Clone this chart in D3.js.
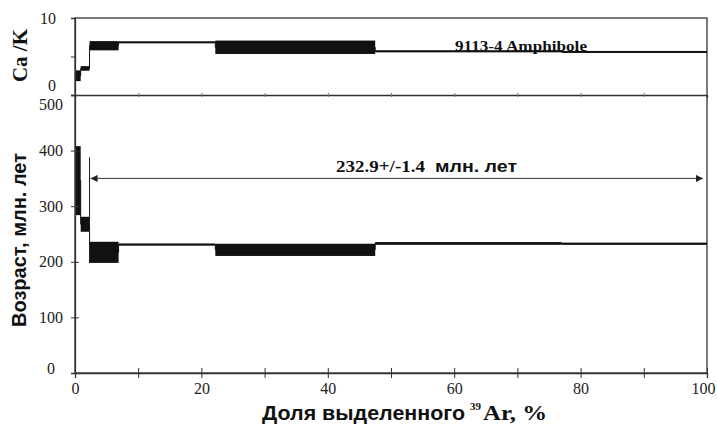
<!DOCTYPE html>
<html>
<head>
<meta charset="utf-8">
<script src="https://cdn.jsdelivr.net/npm/d3@7"></script>
<style>
  html, body { margin: 0; padding: 0; background: #fff; }
  svg { display: block; }
  .serif { font-family: "Liberation Serif", "Times New Roman", Times, "DejaVu Serif", serif; }
  .sans { font-family: "Liberation Sans", Arial, Helvetica, sans-serif; }
</style>
</head>
<body>
<svg id="chart" width="717" height="437"></svg>
<script>
// Step boundaries, cumulative % of released 39Ar
const stepEdges = [0, 0.9, 2.3, 6.9, 22.2, 47.5, 77.0, 100];
// Apparent ages (Ma) and 1-sigma errors per step
const ageValues = [346, 267.5, 217, 231, 221.5, 233, 232.5];
const ageErrors = [62, 13.5, 19, 2, 11, 2.5, 2];
// Ca/K ratio and errors per step
const caKValues = [2.5, 3.45, 6.4, 6.85, 6.2, 5.7, 5.62];
const caKErrors = [0.7, 0.3, 0.6, 0.12, 0.87, 0.1, 0.1];
// Plateau
const plateauStart = 2.3, plateauEnd = 100, plateauAge = 232.9, plateauErr = 1.4;
const plateauNumber = "232.9+/-1.4";
const plateauUnit = "млн. лет";
const sampleName = "9113-4 Amphibole";
const xTicks = [0, 10, 20, 30, 40, 50, 60, 70, 80, 90, 100];
const ageTicks = [0, 100, 200, 300, 400, 500];
const caKTicks = [0, 5, 10];

const svg = d3.select("#chart");
const left = 75, right = 707;
const topY = 18, midY = 95, botY = 373;

const x = d3.scaleLinear().domain([0, 100]).range([left, right]);
const yAge = d3.scaleLinear().domain([0, 500]).range([botY, midY]);
const yCa = d3.scaleLinear().domain([0, 10]).range([midY, topY]);

const steps = ageValues.map((v, i) => ({
  x0: stepEdges[i], x1: stepEdges[i + 1],
  age: v, ageErr: ageErrors[i],
  ca: caKValues[i], caErr: caKErrors[i]
}));

const lineCol = "#333";
const ink = "#111";
const serifFont = "Liberation Serif, Times New Roman, Times, DejaVu Serif, serif";

// Stretch a text element so it spans a given width
function fit(sel, width) {
  sel.attr("textLength", width).attr("lengthAdjust", "spacingAndGlyphs");
  return sel;
}

// Frame
svg.append("rect").attr("x", left).attr("y", topY)
  .attr("width", right - left).attr("height", botY - topY)
  .attr("fill", "none").attr("stroke", lineCol).attr("stroke-width", 1.3);

// Step outlines (connecting lines)
function stepLine(yScale, key) {
  const pts = [];
  steps.forEach(s => { pts.push([s.x0, s[key]]); pts.push([s.x1, s[key]]); });
  return d3.line().x(d => x(d[0])).y(d => yScale(d[1]))(pts);
}
svg.append("path").attr("d", stepLine(yCa, "ca"))
  .attr("fill", "none").attr("stroke", ink).attr("stroke-width", 1);
svg.append("path").attr("d", stepLine(yAge, "age"))
  .attr("fill", "none").attr("stroke", ink).attr("stroke-width", 1);

// Error boxes
function boxes(yScale, key, errKey) {
  svg.append("g").selectAll("rect").data(steps).join("rect")
    .attr("x", d => x(d.x0))
    .attr("width", d => x(d.x1) - x(d.x0))
    .attr("y", d => yScale(d[key] + d[errKey]))
    .attr("height", d => Math.max(2, yScale(d[key] - d[errKey]) - yScale(d[key] + d[errKey])))
    .attr("fill", ink);
}
boxes(yCa, "ca", "caErr");
boxes(yAge, "age", "ageErr");

// Bottom axis
const gx = svg.append("g").attr("transform", `translate(0,${botY})`)
  .call(d3.axisBottom(x).tickValues(xTicks).tickSize(5)
    .tickFormat(d => d % 20 === 0 ? d : ""));
gx.attr("font-family", serifFont).attr("font-size", 16);
gx.select(".domain").attr("stroke", lineCol).attr("stroke-width", 1.3);
gx.selectAll(".tick line").attr("y1", -5).attr("y2", 5).attr("stroke", lineCol);
gx.selectAll(".tick text").attr("y", 10).attr("fill", "#222")
  .attr("dx", d => d === 100 ? -4 : 0);

// Ticks on the panel divider
const gm = svg.append("g").attr("transform", `translate(0,${midY})`)
  .call(d3.axisBottom(x).tickValues(xTicks.slice(1, -1)).tickSize(3).tickFormat(""));
gm.select(".domain").attr("stroke", lineCol).attr("stroke-width", 1.3);
gm.selectAll(".tick line").attr("y1", -2).attr("y2", 2).attr("stroke", "#777");

// Age axis
const gy = svg.append("g").attr("transform", `translate(${left},0)`)
  .call(d3.axisLeft(yAge).tickValues(ageTicks).tickSize(4));
gy.attr("font-family", serifFont).attr("font-size", 16);
gy.select(".domain").attr("stroke", lineCol).attr("stroke-width", 1.3);
gy.selectAll(".tick line").attr("x1", -4).attr("x2", 4).attr("stroke", lineCol);
gy.selectAll(".tick text").attr("x", -24)
  .attr("text-anchor", "middle").attr("fill", "#222")
  .attr("dy", d => d === 500 ? "0.9em" : d === 0 ? "0.05em" : "0.32em");

// Ca/K axis
const gc = svg.append("g").attr("transform", `translate(${left},0)`)
  .call(d3.axisLeft(yCa).tickValues(caKTicks).tickSize(4)
    .tickFormat(d => d === 5 ? "" : d));
gc.attr("font-family", serifFont).attr("font-size", 16);
gc.select(".domain").attr("stroke", lineCol).attr("stroke-width", 1.3);
gc.selectAll(".tick line").attr("x1", -4).attr("x2", 0).attr("stroke", lineCol)
  .filter(d => d !== 5).remove();
gc.selectAll(".tick text").attr("x", -19).attr("fill", "#222")
  .attr("dy", d => d === 0 ? "-0.3em" : "0.32em");

// Plateau marker and arrow
svg.append("defs").html(`
  <marker id="ah" viewBox="0 0 10 10" refX="10" refY="5" markerWidth="10" markerHeight="7"
    markerUnits="userSpaceOnUse" orient="auto-start-reverse">
    <path d="M0,0 L10,5 L0,10 z" fill="#222"/>
  </marker>`);
svg.append("line")
  .attr("x1", x(plateauStart)).attr("x2", x(plateauStart))
  .attr("y1", yAge(plateauAge + 155)).attr("y2", yAge(ageValues[2] - ageErrors[2]))
  .attr("stroke", "#222").attr("stroke-width", 1);
const arrowAge = 350;
svg.append("line")
  .attr("x1", x(plateauStart) + 1).attr("x2", x(plateauEnd) - 4)
  .attr("y1", yAge(arrowAge)).attr("y2", yAge(arrowAge))
  .attr("stroke", "#333").attr("stroke-width", 1)
  .attr("marker-start", "url(#ah)").attr("marker-end", "url(#ah)");
fit(svg.append("text").attr("class", "serif").attr("x", 336).attr("y", 172)
  .attr("font-weight", "bold").attr("font-size", 17).attr("fill", ink)
  .text(plateauNumber), 89);
fit(svg.append("text").attr("class", "sans").attr("x", 435).attr("y", 172)
  .attr("font-weight", "bold").attr("font-size", 16).attr("fill", ink)
  .text(plateauUnit), 82);

// Sample name
fit(svg.append("text").attr("class", "serif").attr("x", 455).attr("y", 51)
  .attr("font-weight", "bold").attr("font-size", 15).attr("fill", ink)
  .text(sampleName), 132);

// Axis titles
svg.append("text").attr("class", "serif")
  .attr("transform", `translate(27,${(topY + midY) / 2 - 1}) rotate(-90)`)
  .attr("text-anchor", "middle")
  .attr("font-weight", "bold").attr("font-size", 21).attr("fill", ink)
  .text("Ca /K");
svg.append("text").attr("class", "sans")
  .attr("transform", `translate(26,${(midY + botY) / 2 + 6}) rotate(-90)`)
  .attr("text-anchor", "middle")
  .attr("font-weight", "bold").attr("font-size", 20).attr("fill", ink)
  .text("Возраст, млн. лет");

fit(svg.append("text").attr("class", "sans").attr("x", 262).attr("y", 420)
  .attr("font-weight", "bold").attr("font-size", 20).attr("fill", ink)
  .text("Доля выделенного"), 203);
svg.append("text").attr("class", "serif").attr("x", 470).attr("y", 410)
  .attr("font-weight", "bold").attr("font-size", 11).attr("fill", ink)
  .text("39");
fit(svg.append("text").attr("class", "serif").attr("x", 483).attr("y", 420)
  .attr("font-weight", "bold").attr("font-size", 21).attr("fill", ink)
  .text("Ar, %"), 64);
</script>
</body>
</html>
